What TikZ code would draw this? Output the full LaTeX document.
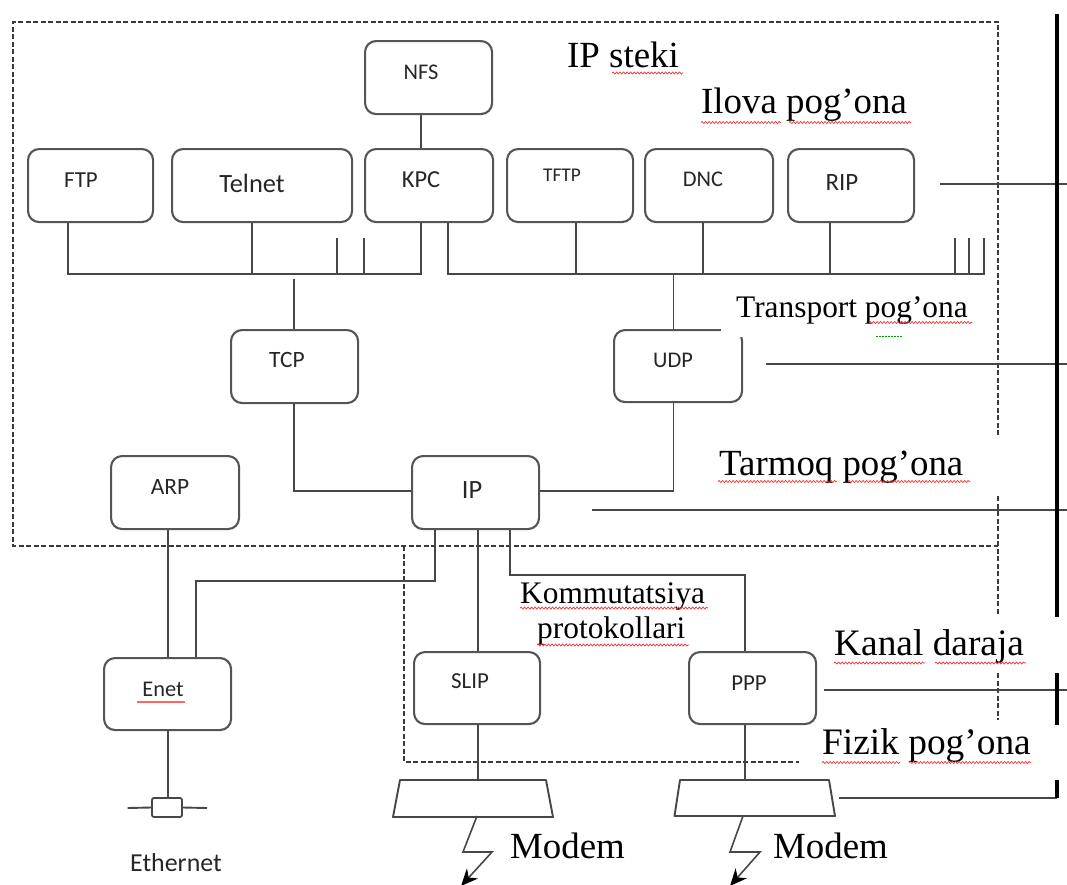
\documentclass[tikz,border=0pt]{standalone}
\usepackage{fontspec}
\setmainfont{Liberation Serif}
\newfontfamily\boxfont{Carlito}
\usetikzlibrary{decorations.pathmorphing,arrows.meta,calc}
\definecolor{boxc}{HTML}{555555}
\definecolor{linec}{HTML}{474747}
\definecolor{dashc}{HTML}{3A3A3A}
\definecolor{squigc}{HTML}{F03030}
\begin{document}
\begin{tikzpicture}[x=1bp,y=-1bp,
  box/.style={draw=boxc,line width=2.1bp,rounded corners=11bp,inner sep=0,anchor=north west,minimum width=127bp,minimum height=73bp},
  ln/.style={draw=linec,line width=1.9bp},
  dsh/.style={draw=dashc,line width=2bp,dash pattern=on 5bp off 2.5bp},
  thick line/.style={draw=black,line width=4.5bp},
  bt/.style={inner sep=0,text=black!85},
  lbl/.style={inner sep=0,anchor=base west,text=black},
  squig/.style={draw=squigc,line width=0.7bp,decorate,decoration={snake,amplitude=1bp,segment length=3.5bp}},
  arr/.style={-{Stealth[length=17bp,width=15bp,color=black]}},
]
\useasboundingbox (0,0) rectangle (1067,885);

% dashed frames
\draw[dsh] (998,435) -- (998,22) -- (13,22) -- (13,546) -- (998,546);
\draw[dsh] (998,496) -- (998,615);
\draw[dsh] (998,673) -- (998,720);
\draw[dsh] (404,546) -- (404,762) -- (799,762);

% boxes
\node[box] (nfs) at (364,40) {};
\node[box,minimum width=125bp] (ftp) at (27,148) {};
\node[box,minimum width=180bp] (telnet) at (171,148) {};
\node[box,minimum width=128bp] (kpc) at (364,148) {};
\node[box,minimum width=126bp] (tftp) at (506,148) {};
\node[box,minimum width=128bp] (dnc) at (644,148) {};
\node[box,minimum width=126bp] (rip) at (787,148) {};
\node[box,minimum height=73bp] (tcp) at (230,329) {};
\node[box,minimum width=128bp,minimum height=72bp] (udp) at (613,329) {};
\node[box,minimum width=128bp] (arp) at (110,455) {};
\node[box] (ip) at (411,455) {};
\node[box,minimum height=72bp] (enet) at (103,657) {};
\node[box,minimum width=126bp,minimum height=72bp] (slip) at (413,651) {};
\node[box,minimum height=72bp] (ppp) at (688,651) {};
\node[draw=linec,line width=1.8bp,fill=white,rounded corners=2bp,minimum width=30bp,minimum height=19bp,inner sep=0] (eth) at (167,807.5) {};

% box texts
\node[bt,font=\boxfont\fontsize{22.5}{26}\selectfont] (nfst) at (421,72) {NFS};
\node[bt,font=\boxfont\fontsize{23}{26}\selectfont] (ftpt) at (81,180) {FTP};
\node[bt,font=\boxfont\fontsize{26.5}{30}\selectfont] (telnett) at (252,183) {Telnet};
\node[bt,font=\boxfont\fontsize{24.5}{28}\selectfont] (kpct) at (421,180) {KPC};
\node[bt,font=\boxfont\fontsize{19.5}{23}\selectfont] (tftpt) at (562,175) {TFTP};
\node[bt,font=\boxfont\fontsize{22.5}{26}\selectfont] (dnct) at (703,179) {DNC};
\node[bt,font=\boxfont\fontsize{25}{28}\selectfont] (ript) at (842,183) {RIP};
\node[bt,font=\boxfont\fontsize{23.5}{27}\selectfont] (tcpt) at (287,360) {TCP};
\node[bt,font=\boxfont\fontsize{22.5}{26}\selectfont] (udpt) at (673,360) {UDP};
\node[bt,font=\boxfont\fontsize{23.5}{27}\selectfont] (arpt) at (170,487) {ARP};
\node[bt,font=\boxfont\fontsize{26.5}{30}\selectfont] (ipt) at (472,490) {IP};
\node[bt,font=\boxfont\fontsize{22.5}{26}\selectfont] (enett) at (163,689) {Enet};
\node[bt,font=\boxfont\fontsize{23}{26}\selectfont] (slipt) at (470,681) {SLIP};
\node[bt,font=\boxfont\fontsize{23}{26}\selectfont] (pppt) at (749,683) {PPP};
\node[bt,font=\boxfont\fontsize{26}{30}\selectfont] (etht) at (176,863) {Ethernet};
\draw[draw=red!60,line width=2bp] (137,702) -- (185,702);

% coordinates
\coordinate (busL1) at (68,274);
\coordinate (busL2) at (421,274);
\coordinate (busR1) at (448,274);
\coordinate (busR2) at (984,274);
\coordinate (t1) at (294,279);
\coordinate (t2) at (294,491);
\coordinate (u1) at (673.5,274);
\coordinate (u2) at (673.5,491);
\coordinate (a1) at (435,581);
\coordinate (a2) at (196,581);
\coordinate (b1) at (510,575);
\coordinate (b2) at (745,575);
\coordinate (ex) at (168,808);
\coordinate (m1top) at (477.6,780);
\coordinate (m1bot) at (477,816);
\coordinate (m2top) at (745,780);
\coordinate (m2bot) at (743,816);

% application bus
\draw[ln] (nfs.south -| busL2) -- (kpc.north -| busL2);
\draw[ln] (ftp.south -| busL1) -- (busL1) -- (busL2) -- (kpc.south -| busL2);
\draw[ln] ([xshift=-10bp]telnet.south) -- ([xshift=-10bp]telnet.south |- busL1);
\draw[ln] (337,238) -- (337,274);
\draw[ln] (364,238) -- (364,274);
\draw[ln] (kpc.south -| busR1) -- (busR1) -- (busR2) -- (984,238);
\draw[ln] (955,238) -- (955,274);
\draw[ln] (969,238) -- (969,274);
\draw[ln] ([xshift=6bp]tftp.south) -- ([xshift=6bp]tftp.south |- busR1);
\draw[ln] ([xshift=-6bp]dnc.south) -- ([xshift=-6bp]dnc.south |- busR1);
\draw[ln] ([xshift=-21bp]rip.south) -- ([xshift=-21bp]rip.south |- busR1);

% transport / network
\draw[ln] (t1) -- (tcp.north -| t1);
\draw[ln] (tcp.south -| t2) -- (t2) -- (ip.west |- t2);
\draw[ln] (u1) -- (udp.north -| u1);
\draw[ln] (udp.south -| u2) -- (u2) -- (ip.east |- u2);
\fill[white] (721,326) rectangle (746,336.5);

% link layer
\draw[ln] (arp.south -| ex) -- (enet.north -| ex);
\draw[ln] (enet.south -| ex) -- (eth.north -| ex);
\draw[ln] (127.6,808) -- (eth.west);
\draw[ln] (eth.east) -- (207,808);
\draw[ln] (ip.south -| a1) -- (a1) -- (a2) -- (enet.north -| a2);
\draw[ln] (ip.south -| m1top) -- (slip.north -| m1top);
\draw[ln] (slip.south -| m1top) -- (m1top);
\draw[ln] (ip.south -| b1) -- (b1) -- (b2) -- (ppp.north -| b2);
\draw[ln] (ppp.south -| b2) -- (m2top);

% modems
\draw[ln,line join=round] (400,780) -- (546,780) -- (553,817) -- (393,817) -- cycle;
\draw[ln,line join=round] (680,780) -- (829,780) -- (835,816) -- (674.5,816) -- cycle;
\draw[ln,line width=1.6bp,arr] (m1bot) -- (463,852) -- (492,852) -- (461,886);
\draw[ln,line width=1.6bp,arr] (m2bot) -- (730,852) -- (760,852) -- (730,886);

% layer lines
\draw[ln] (940,184) -- (1067,184);
\draw[ln] (766,364) -- (1067,364);
\draw[ln] (592,510) -- (1067,510);
\draw[ln] (824,690) -- (1067,690);
\draw[ln] (839,798) -- (1057,798);
\draw[thick line] (1057,14) -- (1057,617);
\draw[thick line] (1057,673) -- (1057,725);
\draw[thick line] (1057,780) -- (1057,798);

% labels
\node[lbl,font=\fontsize{37}{40}\selectfont] (ipsteki) at (567,67) {IP steki};
\node[lbl,font=\fontsize{37}{40}\selectfont] (ilova) at (701,113) {Ilova pog’ona};
\node[lbl,font=\fontsize{31.5}{34}\selectfont] (transport) at (736,317) {Transport pog’ona};
\node[lbl,font=\fontsize{37}{40}\selectfont] (tarmoq) at (719,475) {Tarmoq pog’ona};
\node[lbl,font=\fontsize{31.5}{34}\selectfont] (kommut) at (520,603) {Kommutatsiya};
\node[lbl,font=\fontsize{31.5}{34}\selectfont] (protok) at (537,638) {protokollari};
\node[lbl,font=\fontsize{37.5}{40}\selectfont] (kanal) at (834,655) {Kanal daraja};
\node[lbl,font=\fontsize{37.5}{40}\selectfont] (fizik) at (822,754) {Fizik pog’ona};
\node[lbl,font=\fontsize{37}{40}\selectfont] (modem1) at (510,858) {Modem};
\node[lbl,font=\fontsize{37}{40}\selectfont] (modem2) at (773,858) {Modem};

% spell-check squiggles
\draw[squig] (612,73) -- (683,73);
\draw[squig] (701,122.5) -- (781,122.5);
\draw[squig] (789,122.5) -- (911,122.5);
\draw[squig] (869,322.5) -- (972,322.5);
\draw[draw=green!60!black,line width=0.6bp,dash pattern=on 1.5bp off 1.5bp] (876,336) -- (902,336);
\draw[squig] (718,481.5) -- (837,481.5);
\draw[squig] (848,481.5) -- (970,481.5);
\draw[squig] (520,608) -- (708,608);
\draw[squig] (537,645) -- (689,645);
\draw[squig] (834,663) -- (925,663);
\draw[squig] (935,663) -- (1026,663);
\draw[squig] (822,762.5) -- (900,762.5);
\draw[squig] (909,762.5) -- (1031,762.5);
\end{tikzpicture}
\end{document}
